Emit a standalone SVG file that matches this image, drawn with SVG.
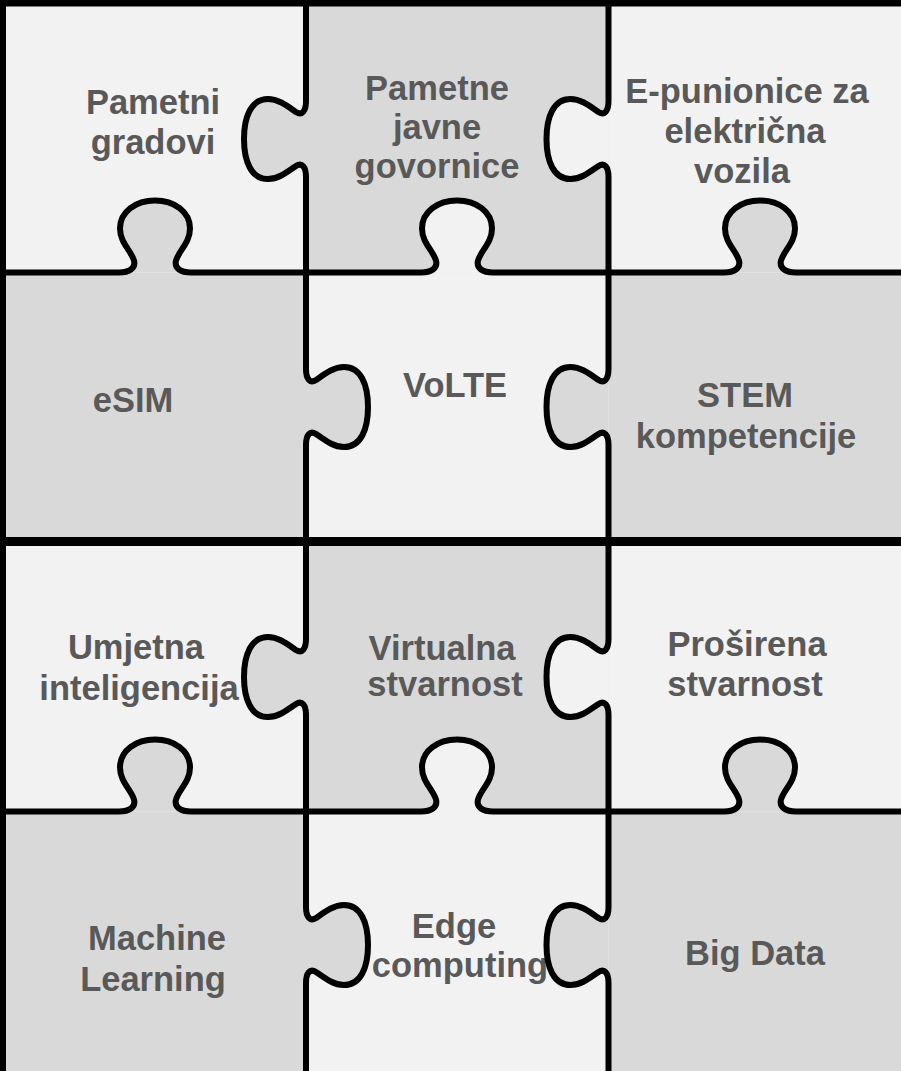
<svg xmlns="http://www.w3.org/2000/svg" width="901" height="1071" viewBox="0 0 901 1071">
<style>
.lt{fill:#f2f2f2}
.dk{fill:#d9d9d9}
.t{font-family:"Liberation Sans",Arial,sans-serif;font-weight:bold;font-size:34.5px;fill:#595959;text-anchor:middle}
.ol{fill:none;stroke:#000;stroke-width:6;stroke-linejoin:round}
</style>
<g id="piece-r1c1">
<rect class="lt" x="0" y="0" width="306" height="272.5"/>
<text class="t" x="153" y="114">Pametni</text>
<text class="t" x="153" y="154">gradovi</text>
</g>
<g id="piece-r1c2">
<rect class="dk" x="306" y="0" width="302.5" height="272.5"/>
<path class="dk" d="M306,101 c0,10 -4,15 -10,11 c-10,-7 -18,-13 -28,-13 c-17,0 -24,18 -24,40 c0,22 7,40 24,40 c10,0 18,-6 28,-13 c6,-4 10,1 10,11 Z"/>
<text class="t" x="437" y="100">Pametne</text>
<text class="t" x="437" y="139">javne</text>
<text class="t" x="437" y="178">govornice</text>
</g>
<g id="piece-r1c3">
<rect class="lt" x="608.5" y="0" width="300" height="272.5"/>
<path class="lt" d="M608.5,101 c0,10 -4,15 -10,11 c-10,-7 -18,-13 -28,-13 c-17,0 -24,18 -24,40 c0,22 7,40 24,40 c10,0 18,-6 28,-13 c6,-4 10,1 10,11 Z"/>
<text class="t" x="747" y="103">E-punionice za</text>
<text class="t" x="745" y="143">električna</text>
<text class="t" x="742" y="183">vozila</text>
</g>
<g id="piece-r2c2">
<rect class="lt" x="306" y="272.5" width="302.5" height="269"/>
<path class="lt" d="M421,272.5 c10,0 17,-4 15,-12 c-3,-10 -14,-18 -14,-32 c0,-17 16,-28 35,-28 c19,0 35,11 35,28 c0,14 -11,22 -14,32 c-2,8 5,12 15,12 Z"/>
<text class="t" x="455" y="397">VoLTE</text>
</g>
<g id="piece-r2c1">
<rect class="dk" x="0" y="272.5" width="306" height="269"/>
<path class="dk" d="M119,272.5 c10,0 17,-4 15,-12 c-3,-10 -14,-18 -14,-32 c0,-17 16,-28 35,-28 c19,0 35,11 35,28 c0,14 -11,22 -14,32 c-2,8 5,12 15,12 Z"/>
<path class="dk" d="M306,369 c0,10 4,15 10,11 c10,-7 18,-13 28,-13 c17,0 24,18 24,40 c0,22 -7,40 -24,40 c-10,0 -18,-6 -28,-13 c-6,-4 -10,1 -10,11 Z"/>
<text class="t" x="133" y="412">eSIM</text>
</g>
<g id="piece-r2c3">
<rect class="dk" x="608.5" y="272.5" width="300" height="269"/>
<path class="dk" d="M724,272.5 c10,0 17,-4 15,-12 c-3,-10 -14,-18 -14,-32 c0,-17 16,-28 35,-28 c19,0 35,11 35,28 c0,14 -11,22 -14,32 c-2,8 5,12 15,12 Z"/>
<path class="dk" d="M608.5,369 c0,10 -4,15 -10,11 c-10,-7 -18,-13 -28,-13 c-17,0 -24,18 -24,40 c0,22 7,40 24,40 c10,0 18,-6 28,-13 c6,-4 10,1 10,11 Z"/>
<text class="t" x="745" y="407">STEM</text>
<text class="t" x="746" y="448">kompetencije</text>
</g>
<g id="piece-r3c1">
<rect class="lt" x="0" y="541.5" width="306" height="270"/>
<text class="t" x="136" y="659">Umjetna</text>
<text class="t" x="139" y="700">inteligencija</text>
</g>
<g id="piece-r3c2">
<rect class="dk" x="306" y="541.5" width="302.5" height="270"/>
<path class="dk" d="M306,639 c0,10 -4,15 -10,11 c-10,-7 -18,-13 -28,-13 c-17,0 -24,18 -24,40 c0,22 7,40 24,40 c10,0 18,-6 28,-13 c6,-4 10,1 10,11 Z"/>
<text class="t" x="442" y="660">Virtualna</text>
<text class="t" x="445" y="696">stvarnost</text>
</g>
<g id="piece-r3c3">
<rect class="lt" x="608.5" y="541.5" width="300" height="270"/>
<path class="lt" d="M608.5,639 c0,10 -4,15 -10,11 c-10,-7 -18,-13 -28,-13 c-17,0 -24,18 -24,40 c0,22 7,40 24,40 c10,0 18,-6 28,-13 c6,-4 10,1 10,11 Z"/>
<text class="t" x="747" y="656">Proširena</text>
<text class="t" x="745" y="696">stvarnost</text>
</g>
<g id="piece-r4c2">
<rect class="lt" x="306" y="811.5" width="302.5" height="270"/>
<path class="lt" d="M421,811.5 c10,0 17,-4 15,-12 c-3,-10 -14,-18 -14,-32 c0,-17 16,-28 35,-28 c19,0 35,11 35,28 c0,14 -11,22 -14,32 c-2,8 5,12 15,12 Z"/>
<text class="t" x="454" y="938">Edge</text>
<text class="t" x="460" y="977">computing</text>
</g>
<g id="piece-r4c1">
<rect class="dk" x="0" y="811.5" width="306" height="270"/>
<path class="dk" d="M119,811.5 c10,0 17,-4 15,-12 c-3,-10 -14,-18 -14,-32 c0,-17 16,-28 35,-28 c19,0 35,11 35,28 c0,14 -11,22 -14,32 c-2,8 5,12 15,12 Z"/>
<path class="dk" d="M306,907 c0,10 4,15 10,11 c10,-7 18,-13 28,-13 c17,0 24,18 24,40 c0,22 -7,40 -24,40 c-10,0 -18,-6 -28,-13 c-6,-4 -10,1 -10,11 Z"/>
<text class="t" x="157" y="950">Machine</text>
<text class="t" x="153" y="991">Learning</text>
</g>
<g id="piece-r4c3">
<rect class="dk" x="608.5" y="811.5" width="300" height="270"/>
<path class="dk" d="M724,811.5 c10,0 17,-4 15,-12 c-3,-10 -14,-18 -14,-32 c0,-17 16,-28 35,-28 c19,0 35,11 35,28 c0,14 -11,22 -14,32 c-2,8 5,12 15,12 Z"/>
<path class="dk" d="M608.5,907 c0,10 -4,15 -10,11 c-10,-7 -18,-13 -28,-13 c-17,0 -24,18 -24,40 c0,22 7,40 24,40 c10,0 18,-6 28,-13 c6,-4 10,1 10,11 Z"/>
<text class="t" x="755" y="965">Big Data</text>
</g>
<g id="outlines">
<path class="ol" d="M-5,272.5 H119 c10,0 17,-4 15,-12 c-3,-10 -14,-18 -14,-32 c0,-17 16,-28 35,-28 c19,0 35,11 35,28 c0,14 -11,22 -14,32 c-2,8 5,12 15,12 H421 c10,0 17,-4 15,-12 c-3,-10 -14,-18 -14,-32 c0,-17 16,-28 35,-28 c19,0 35,11 35,28 c0,14 -11,22 -14,32 c-2,8 5,12 15,12 H724 c10,0 17,-4 15,-12 c-3,-10 -14,-18 -14,-32 c0,-17 16,-28 35,-28 c19,0 35,11 35,28 c0,14 -11,22 -14,32 c-2,8 5,12 15,12 H920"/>
<path class="ol" d="M-5,811.5 H119 c10,0 17,-4 15,-12 c-3,-10 -14,-18 -14,-32 c0,-17 16,-28 35,-28 c19,0 35,11 35,28 c0,14 -11,22 -14,32 c-2,8 5,12 15,12 H421 c10,0 17,-4 15,-12 c-3,-10 -14,-18 -14,-32 c0,-17 16,-28 35,-28 c19,0 35,11 35,28 c0,14 -11,22 -14,32 c-2,8 5,12 15,12 H724 c10,0 17,-4 15,-12 c-3,-10 -14,-18 -14,-32 c0,-17 16,-28 35,-28 c19,0 35,11 35,28 c0,14 -11,22 -14,32 c-2,8 5,12 15,12 H920"/>
<path class="ol" d="M306,-5 V101 c0,10 -4,15 -10,11 c-10,-7 -18,-13 -28,-13 c-17,0 -24,18 -24,40 c0,22 7,40 24,40 c10,0 18,-6 28,-13 c6,-4 10,1 10,11 V369 c0,10 4,15 10,11 c10,-7 18,-13 28,-13 c17,0 24,18 24,40 c0,22 -7,40 -24,40 c-10,0 -18,-6 -28,-13 c-6,-4 -10,1 -10,11 V639 c0,10 -4,15 -10,11 c-10,-7 -18,-13 -28,-13 c-17,0 -24,18 -24,40 c0,22 7,40 24,40 c10,0 18,-6 28,-13 c6,-4 10,1 10,11 V907 c0,10 4,15 10,11 c10,-7 18,-13 28,-13 c17,0 24,18 24,40 c0,22 -7,40 -24,40 c-10,0 -18,-6 -28,-13 c-6,-4 -10,1 -10,11 V1080"/>
<path class="ol" d="M608.5,-5 V101 c0,10 -4,15 -10,11 c-10,-7 -18,-13 -28,-13 c-17,0 -24,18 -24,40 c0,22 7,40 24,40 c10,0 18,-6 28,-13 c6,-4 10,1 10,11 V369 c0,10 -4,15 -10,11 c-10,-7 -18,-13 -28,-13 c-17,0 -24,18 -24,40 c0,22 7,40 24,40 c10,0 18,-6 28,-13 c6,-4 10,1 10,11 V639 c0,10 -4,15 -10,11 c-10,-7 -18,-13 -28,-13 c-17,0 -24,18 -24,40 c0,22 7,40 24,40 c10,0 18,-6 28,-13 c6,-4 10,1 10,11 V907 c0,10 -4,15 -10,11 c-10,-7 -18,-13 -28,-13 c-17,0 -24,18 -24,40 c0,22 7,40 24,40 c10,0 18,-6 28,-13 c6,-4 10,1 10,11 V1080"/>
<path class="ol" style="stroke-width:9" d="M-5,541.5 H910"/>
<path class="ol" style="stroke-width:13" d="M-5,0 H910"/>
<path class="ol" style="stroke-width:12" d="M0,-5 V1080"/>
</g>
</svg>
